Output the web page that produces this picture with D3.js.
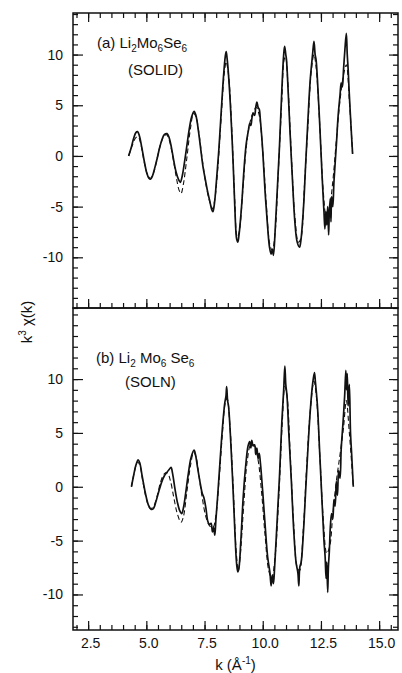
<!doctype html>
<html lang='en'>
<head>
  <meta charset='UTF-8'>
  <title>Li2Mo6Se6 EXAFS</title>
  <style>
    body { margin: 0; background: #fff; }
    svg { display: block; }
    text { font-family: 'Liberation Sans', Arial, sans-serif; fill: #111; }
    .tick text { font-size: 14px; }
    .tick line { stroke: #111; stroke-width: 1.2; }
    .domain { display: none; }
    .frame { fill: none; stroke: #111; stroke-width: 1.5; }
  </style>
</head>
<body>
<script src='https://d3js.org/d3.v7.min.js'></script>
<script>
  // x ticks (k, 1/Angstrom)
  const kMajor = [2.5, 5, 7.5, 10, 12.5, 15]
  const kMinor = d3.range(2, 15.51, 0.5)
  const kLabels = ['2.5', '5.0', '7.5', '10.0', '12.5', '15.0']
  const vMajor = [-10, -5, 0, 5, 10]
  const vLabels = ['-10', '-5', '0', '5', '10']

  // (a) solid sample, measured curve [k, k^3 chi]
  const solidA = [
    [4.24, 0.0], [4.35, 0.8], [4.45, 1.7], [4.55, 2.3], [4.62, 2.4], [4.70, 2.0], [4.80, 0.9],
    [4.91, -0.5], [5.01, -1.6], [5.11, -2.2], [5.18, -2.3], [5.26, -2.0], [5.36, -1.2], [5.47, -0.2],
    [5.57, 0.8], [5.67, 1.6], [5.77, 2.1], [5.89, 2.2], [5.98, 1.8], [6.08, 0.8], [6.18, -0.5],
    [6.28, -1.6], [6.38, -2.3], [6.46, -2.6], [6.54, -2.0], [6.64, -0.6], [6.74, 1.0], [6.84, 2.6],
    [6.94, 3.8], [7.05, 4.4], [7.13, 4.0], [7.23, 2.6], [7.33, 0.8], [7.43, -1.0], [7.54, -2.4],
    [7.64, -3.6], [7.74, -4.6], [7.81, -5.3], [7.86, -5.5], [7.93, -4.6], [8.01, -2.5], [8.12, 0.8],
    [8.22, 4.5], [8.32, 8.0], [8.39, 9.8], [8.43, 10.3], [8.47, 9.6], [8.53, 8.0], [8.63, 4.2],
    [8.73, -0.8], [8.80, -5.0], [8.88, -8.2], [8.93, -8.5], [8.98, -7.8], [9.09, -5.0], [9.19, -1.5],
    [9.29, 1.2], [9.39, 2.6], [9.44, 3.2], [9.49, 3.0], [9.54, 3.8], [9.59, 4.2], [9.65, 4.0],
    [9.70, 4.8], [9.75, 5.3], [9.80, 4.8], [9.85, 4.6], [9.90, 3.5], [10.00, 0.5], [10.10, -3.5],
    [10.21, -7.0], [10.29, -9.0], [10.36, -9.7], [10.41, -9.2], [10.46, -9.8], [10.53, -7.5],
    [10.61, -4.0], [10.72, 1.0], [10.82, 6.5], [10.90, 10.0], [10.94, 10.8], [10.99, 10.0],
    [11.02, 9.5], [11.09, 6.5], [11.17, 2.5], [11.28, -2.5], [11.38, -6.5], [11.48, -8.5],
    [11.58, -9.0], [11.63, -8.5], [11.74, -5.5], [11.84, -1.0], [11.94, 3.5], [12.04, 7.5],
    [12.14, 10.0], [12.20, 11.3], [12.25, 10.0], [12.29, 9.5], [12.35, 7.5], [12.45, 3.0],
    [12.55, -2.0], [12.63, -5.5], [12.67, -7.2], [12.71, -5.5], [12.75, -6.8], [12.79, -5.0],
    [12.83, -7.8], [12.86, -5.5], [12.90, -4.2], [12.93, -6.5], [12.96, -4.0], [13.01, -5.0],
    [13.06, -2.5], [13.16, 1.0], [13.24, 4.0], [13.32, 6.0], [13.37, 7.2], [13.42, 6.8],
    [13.47, 8.5], [13.53, 10.5], [13.59, 12.1], [13.63, 10.0], [13.67, 8.5], [13.72, 6.0],
    [13.79, 3.0], [13.86, 0.2]
  ]

  // (a) fit, dashed
  const fitA = [
    [4.24, 0.0], [4.39, 1.0], [4.55, 1.8], [4.65, 1.9], [4.75, 1.3], [4.91, -0.6], [5.06, -1.9],
    [5.18, -2.2], [5.32, -1.6], [5.47, -0.2], [5.62, 1.2], [5.77, 2.0], [5.87, 2.1], [5.98, 1.6],
    [6.13, 0.0], [6.28, -2.0], [6.41, -3.4], [6.49, -3.7], [6.59, -2.8], [6.74, -0.2], [6.90, 2.8],
    [7.03, 4.2], [7.13, 3.9], [7.25, 2.4], [7.40, -0.3], [7.56, -2.8], [7.71, -4.4], [7.84, -5.2],
    [7.94, -4.3], [8.07, -1.2], [8.22, 4.0], [8.35, 8.2], [8.43, 9.3], [8.53, 8.0], [8.68, 2.2],
    [8.80, -4.5], [8.90, -8.0], [8.98, -7.6], [9.14, -3.5], [9.29, 0.8], [9.44, 3.2], [9.59, 4.3],
    [9.72, 4.8], [9.85, 4.0], [10.00, 0.5], [10.16, -5.0], [10.31, -8.8], [10.41, -9.3],
    [10.53, -7.6], [10.66, -2.0], [10.82, 5.5], [10.92, 9.5], [10.98, 9.8], [11.07, 7.5],
    [11.22, 0.5], [11.38, -6.0], [11.53, -8.5], [11.63, -8.2], [11.79, -3.0], [11.94, 3.0],
    [12.09, 8.5], [12.20, 10.0], [12.29, 8.8], [12.45, 3.0], [12.60, -3.5], [12.73, -6.0],
    [12.86, -5.2], [13.01, -2.5], [13.16, 1.5], [13.32, 5.5], [13.47, 8.0], [13.59, 9.0],
    [13.72, 5.5], [13.86, 0.2]
  ]

  // (b) solution, measured curve
  const solidB = [
    [4.36, 0.0], [4.45, 1.0], [4.55, 2.0], [4.65, 2.5], [4.72, 2.2], [4.82, 1.0], [4.96, -0.6],
    [5.09, -1.7], [5.21, -2.1], [5.31, -2.0], [5.41, -1.4], [5.54, -0.4], [5.67, 0.5], [5.77, 1.0],
    [5.87, 1.3], [5.98, 1.6], [6.06, 1.8], [6.13, 1.2], [6.23, -0.2], [6.33, -1.4], [6.43, -2.2],
    [6.52, -2.5], [6.59, -2.0], [6.69, -0.6], [6.79, 1.0], [6.92, 2.7], [7.05, 3.4], [7.11, 3.0],
    [7.20, 1.8], [7.30, 0.5], [7.40, -0.6], [7.47, -1.0], [7.56, -2.0], [7.64, -3.2], [7.71, -3.5],
    [7.78, -3.4], [7.84, -4.2], [7.89, -3.8], [7.94, -4.5], [7.99, -3.0], [8.06, -1.0], [8.17, 2.5],
    [8.27, 5.5], [8.37, 7.8], [8.42, 8.4], [8.45, 9.3], [8.49, 8.0], [8.53, 7.5], [8.63, 4.0],
    [8.73, -0.5], [8.81, -4.5], [8.88, -7.2], [8.93, -7.9], [8.98, -7.5], [9.06, -5.0], [9.16, -1.0],
    [9.27, 2.0], [9.37, 3.8], [9.44, 4.2], [9.49, 3.6], [9.53, 4.3], [9.59, 3.8], [9.65, 3.9],
    [9.70, 3.0], [9.75, 3.6], [9.80, 2.6], [9.85, 3.1], [9.90, 2.2], [10.00, -0.5], [10.10, -3.5],
    [10.21, -6.5], [10.31, -8.0], [10.36, -9.2], [10.41, -8.2], [10.46, -9.0], [10.51, -7.5],
    [10.61, -3.5], [10.72, 1.0], [10.82, 6.0], [10.90, 9.0], [10.95, 11.2], [10.99, 9.5],
    [11.04, 8.5], [11.12, 5.0], [11.23, 0.5], [11.33, -4.0], [11.43, -7.0], [11.51, -8.0],
    [11.55, -9.2], [11.59, -7.5], [11.65, -7.0], [11.74, -4.5], [11.84, -0.5], [11.94, 3.5],
    [12.04, 7.0], [12.14, 9.5], [12.22, 10.6], [12.26, 9.8], [12.35, 7.5], [12.45, 3.0],
    [12.55, -1.5], [12.63, -5.0], [12.68, -6.5], [12.72, -8.5], [12.75, -7.0], [12.79, -9.8],
    [12.82, -7.5], [12.86, -6.0], [12.91, -3.5], [12.96, -2.5], [13.01, -3.0], [13.06, -1.2],
    [13.11, -1.8], [13.16, 0.5], [13.21, -0.8], [13.26, 1.5], [13.32, 0.8], [13.37, 3.5],
    [13.45, 6.0], [13.52, 8.5], [13.57, 10.8], [13.60, 9.0], [13.63, 10.5], [13.67, 7.5],
    [13.72, 9.5], [13.77, 5.0], [13.82, 3.0], [13.89, 0.0]
  ]

  // (b) fit, dashed
  const fitB = [
    [4.36, 0.0], [4.50, 1.5], [4.62, 2.3], [4.72, 2.0], [4.85, 0.5], [5.01, -1.2], [5.16, -2.0],
    [5.29, -1.9], [5.47, -0.8], [5.62, 0.5], [5.77, 1.2], [5.90, 1.3], [6.03, 0.6], [6.18, -1.0],
    [6.33, -2.5], [6.49, -3.3], [6.59, -2.8], [6.74, -0.5], [6.90, 2.0], [7.03, 3.2], [7.13, 2.8],
    [7.25, 1.2], [7.40, -1.0], [7.56, -2.8], [7.71, -3.6], [7.86, -3.8], [7.98, -2.8], [8.12, 0.5],
    [8.27, 5.0], [8.39, 7.8], [8.47, 8.2], [8.58, 6.0], [8.73, 0.0], [8.86, -6.0], [8.95, -7.8],
    [9.03, -6.5], [9.19, -1.5], [9.34, 2.5], [9.49, 3.9], [9.65, 3.8], [9.80, 2.5], [9.95, -0.5],
    [10.10, -4.5], [10.26, -7.8], [10.39, -8.5], [10.53, -6.5], [10.70, -0.5], [10.84, 6.0],
    [10.95, 9.3], [11.04, 8.5], [11.18, 3.0], [11.33, -3.5], [11.48, -7.5], [11.58, -7.8],
    [11.74, -4.0], [11.89, 2.0], [12.04, 7.0], [12.20, 9.8], [12.30, 8.5], [12.45, 3.0],
    [12.60, -3.0], [12.75, -6.2], [12.88, -5.5], [13.01, -2.5], [13.16, 0.5], [13.32, 3.0],
    [13.47, 5.5], [13.59, 8.0], [13.72, 5.0], [13.89, 0.0]
  ]

  const W = 402, H = 673
  const left = 73, right = 398

  const svg = d3.select('body').append('svg')
    .attr('width', W)
    .attr('height', H)

  const x = d3.scaleLinear().domain([1.85, 15.81]).range([left, right])

  const panels = [
    { id: 'a', top: 13, bottom: 308, domain: [-15, 14.1], solid: solidA, fit: fitA, topTicks: true, xLabels: false },
    { id: 'b', top: 308, bottom: 630, domain: [-13.3, 16.6], solid: solidB, fit: fitB, topTicks: false, xLabels: true }
  ]

  panels.forEach(p => {
    const y = d3.scaleLinear().domain(p.domain).range([p.bottom, p.top])
    const vMinor = d3.range(Math.ceil(p.domain[0]), Math.floor(p.domain[1]) + 1)
    const g = svg.append('g').attr('class', 'panel-' + p.id)

    //// Axes (ticks inward) ////
    g.append('g')
      .attr('transform', `translate(${left},0)`)
      .call(d3.axisLeft(y).tickValues(vMinor).tickSize(-5).tickFormat(''))
    g.append('g')
      .attr('transform', `translate(${left},0)`)
      .call(d3.axisLeft(y).tickValues(vMajor).tickSize(-10).tickPadding(10)
        .tickFormat((d, i) => vLabels[i]))

    g.append('g')
      .attr('transform', `translate(${right},0)`)
      .call(d3.axisRight(y).tickValues(vMinor).tickSize(-5).tickFormat(''))
    g.append('g')
      .attr('transform', `translate(${right},0)`)
      .call(d3.axisRight(y).tickValues(vMajor).tickSize(-9).tickFormat(''))

    g.append('g')
      .attr('transform', `translate(0,${p.bottom})`)
      .call(d3.axisBottom(x).tickValues(kMinor).tickSize(-5).tickFormat(''))
    const xb = g.append('g')
      .attr('transform', `translate(0,${p.bottom})`)
      .call(d3.axisBottom(x).tickValues(kMajor).tickSize(-9).tickPadding(8)
        .tickFormat((d, i) => p.xLabels ? kLabels[i] : ''))
    xb.selectAll('text').attr('dx', 2)

    if (p.topTicks) {
      g.append('g')
        .attr('transform', `translate(0,${p.top})`)
        .call(d3.axisTop(x).tickValues(kMinor).tickSize(-5).tickFormat(''))
      g.append('g')
        .attr('transform', `translate(0,${p.top})`)
        .call(d3.axisTop(x).tickValues(kMajor).tickSize(-9).tickFormat(''))
    }

    g.append('rect')
      .attr('class', 'frame')
      .attr('x', left)
      .attr('y', p.top)
      .attr('width', right - left)
      .attr('height', p.bottom - p.top)

    //// Curves ////
    const line = d3.line()
      .x(d => x(d[0]))
      .y(d => y(d[1]))
      .curve(d3.curveCatmullRom.alpha(0.5))

    g.append('path')
      .datum(p.fit)
      .attr('d', line)
      .attr('fill', 'none')
      .attr('stroke', '#111')
      .attr('stroke-width', 1.1)
      .attr('stroke-dasharray', '5,3')

    g.append('path')
      .datum(p.solid)
      .attr('d', line)
      .attr('fill', 'none')
      .attr('stroke', '#111')
      .attr('stroke-width', 1.7)
      .attr('stroke-linejoin', 'round')
  })

  //// Annotations ////
  function formula(t, gap) {
    const parts = [['Li', '2'], ['Mo', '6'], ['Se', '6']]
    parts.forEach((pr, i) => {
      t.append('tspan').attr('dy', i ? -4 : 0).text((i ? gap : '') + pr[0])
      t.append('tspan').attr('dy', 4).attr('font-size', 10).text(pr[1])
    })
  }

  const la = svg.append('text').attr('x', 97).attr('y', 48).attr('font-size', 15)
  la.append('tspan').text('(a)  ')
  formula(la, '')
  svg.append('text').attr('x', 128).attr('y', 75).attr('font-size', 15).text('(SOLID)')

  const lb = svg.append('text').attr('x', 96).attr('y', 363).attr('font-size', 15)
  lb.append('tspan').text('(b)  ')
  formula(lb, ' ')
  svg.append('text').attr('x', 125).attr('y', 387).attr('font-size', 15).text('(SOLN)')

  // axis titles
  const xt = svg.append('text')
    .attr('x', (left + right) / 2)
    .attr('y', 670)
    .attr('text-anchor', 'middle')
    .attr('font-size', 15)
  xt.append('tspan').text('k (Å')
  xt.append('tspan').attr('dy', -6).attr('font-size', 10).text('-1')
  xt.append('tspan').attr('dy', 6).text(')')

  const yt = svg.append('text')
    .attr('transform', 'translate(32,322) rotate(-90)')
    .attr('text-anchor', 'middle')
    .attr('font-size', 15)
  yt.append('tspan').text('k')
  yt.append('tspan').attr('dy', -6).attr('font-size', 10).text('3')
  yt.append('tspan').attr('dy', 6).text(' χ(k)')
</script>
</body>
</html>
